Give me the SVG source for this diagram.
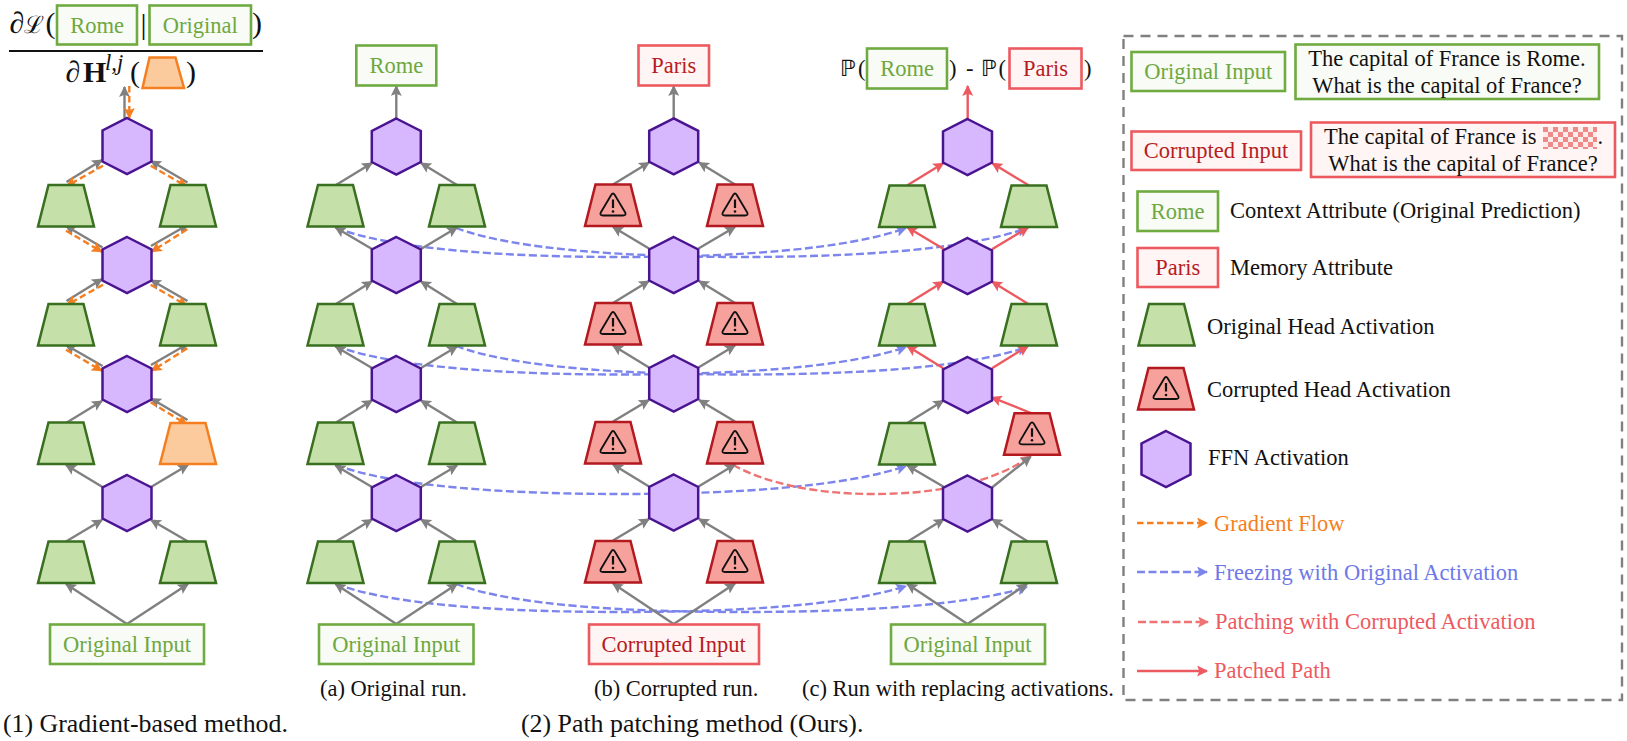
<svg xmlns="http://www.w3.org/2000/svg" width="1627" height="741" viewBox="0 0 1627 741">
<style>
text{font-family:"Liberation Serif","DejaVu Serif",serif;font-size:22.5px;fill:#111}
.m{text-anchor:middle}
.math{font-size:30px}
.cap{font-size:25.85px}
.tg{fill:#6EA83F}.tr{fill:#B71C23}
.bg{fill:#F8FBF6;stroke:#70AB42;stroke-width:2.6}
.br{fill:#FEF5F4;stroke:#EC5A60;stroke-width:2.6}
.hex{fill:#D7B7FD;stroke:#4A1491;stroke-width:2.5}
.tgreen{fill:#C5E0A9;stroke:#38701F;stroke-width:2.5}
.tred{fill:#F6A19C;stroke:#B3191F;stroke-width:2.5}
.torange{fill:#FBCB9D;stroke:#F57F20;stroke-width:2.5}
.c{fill:none;stroke-width:2.4}
.gray{stroke:#808080;marker-end:url(#ag)}
.org{stroke:#F57F20;stroke-dasharray:6.5 3.5;marker-end:url(#ao)}
.blue{stroke:#7C85EC;stroke-dasharray:8 3.5;marker-end:url(#ab)}
.pink{stroke:#EE7474;stroke-dasharray:8 3.5;marker-end:url(#ap)}
.red{stroke:#EC5A60;marker-end:url(#ar)}
</style>
<defs>
<marker id="ag" markerUnits="userSpaceOnUse" markerWidth="11" markerHeight="11" viewBox="0 0 10 10" refX="9" refY="5" orient="auto"><path d="M0,0L10,5L0,10L2,5Z" fill="#808080"/></marker>
<marker id="ao" markerUnits="userSpaceOnUse" markerWidth="11" markerHeight="11" viewBox="0 0 10 10" refX="9" refY="5" orient="auto"><path d="M0,0L10,5L0,10L2,5Z" fill="#F57F20"/></marker>
<marker id="ab" markerUnits="userSpaceOnUse" markerWidth="11" markerHeight="11" viewBox="0 0 10 10" refX="9" refY="5" orient="auto"><path d="M0,0L10,5L0,10L2,5Z" fill="#7C85EC"/></marker>
<marker id="ap" markerUnits="userSpaceOnUse" markerWidth="11" markerHeight="11" viewBox="0 0 10 10" refX="9" refY="5" orient="auto"><path d="M0,0L10,5L0,10L2,5Z" fill="#EE7474"/></marker>
<marker id="ar" markerUnits="userSpaceOnUse" markerWidth="11" markerHeight="11" viewBox="0 0 10 10" refX="9" refY="5" orient="auto"><path d="M0,0L10,5L0,10L2,5Z" fill="#EC5A60"/></marker>
<polygon id="H" class="hex" points="0,-28 24.5,-15.5 24.5,15.5 0,28 -24.5,15.5 -24.5,-15.5"/>
<polygon id="T" class="tgreen" points="-17.5,-21 17.5,-21 28,20.5 -28,20.5"/>
<g id="R">
<polygon class="tred" points="-17.5,-21 17.5,-21 28,20.5 -28,20.5"/>
<path d="M-1.8,-10.5Q0,-13.5 1.8,-10.5L12.2,7Q13.6,10 10,10L-10,10Q-13.6,10 -12.2,7Z" fill="none" stroke="#111" stroke-width="1.8"/>
<path d="M0,-6V2.5" stroke="#111" stroke-width="2.2"/>
<circle cx="0" cy="6" r="1.3" fill="#111"/>
</g>
<pattern id="chk" width="10" height="10" patternUnits="userSpaceOnUse" x="1543" y="127">
<rect width="10" height="10" fill="#FDEDEA"/>
<rect width="5" height="5" fill="#EE8A8A"/>
<rect x="5" y="5" width="5" height="5" fill="#EE8A8A"/>
</pattern>
</defs>
<g id="connectors">
<path class="c blue" d="M336,228C395,250 510,257 621,257S845,250 906,228"/>
<path class="c blue" d="M456,228C515,250 630,257 742,257S967,250 1027,228"/>
<path class="c blue" d="M336,346C395,368 510,374.5 621,374.5S845,368 906,347"/>
<path class="c blue" d="M456,346C515,368 630,374.5 742,374.5S967,368 1027,347"/>
<path class="c blue" d="M336,465C395,487 510,494 621,494S845,487 906,466"/>
<path class="c blue" d="M336,584C395,606 510,612 621,612S845,606 906,586"/>
<path class="c blue" d="M456,584C515,606 630,612 742,612S967,606 1027,587"/>
<path class="c pink" d="M733,465C770,485 820,494 873,494C930,494 990,485 1031,456"/>
<path class="c gray" d="M124.5,118V87"/>
<path class="c gray" d="M66.5,182L102,160"/><path class="c gray" d="M187.5,182.5L151,161"/>
<path class="c gray" d="M102.5,247.5L66,226"/><path class="c gray" d="M151,246L187.5,225"/>
<path class="c gray" d="M66.5,301L102,279"/><path class="c gray" d="M187.5,301L151,280"/>
<path class="c gray" d="M102.5,366L66,345"/><path class="c gray" d="M151,365L187.5,344"/>
<path class="c gray" d="M66,423L102,401"/><path class="c gray" d="M187.5,420L151,398.5"/>
<path class="c gray" d="M102.5,487L66,465"/><path class="c gray" d="M151,487L188,465"/>
<path class="c gray" d="M66,541.5L102,520"/><path class="c gray" d="M188,541.5L151,520"/>
<path class="c gray" d="M127,624L66,584"/><path class="c gray" d="M127,624L188,584"/>
<path class="c org" d="M129.3,86V118"/>
<path class="c org" d="M103,165.7L66.7,186"/><path class="c org" d="M150.7,165.7L186.7,186.5"/>
<path class="c org" d="M66,230.7L101.7,251.7"/><path class="c org" d="M187.3,229.3L151.7,251.7"/>
<path class="c org" d="M103,284.7L66.7,305"/><path class="c org" d="M150.7,284.7L186.7,305.5"/>
<path class="c org" d="M66,349.7L101.7,370.7"/><path class="c org" d="M187.3,348.3L151.7,370.7"/>
<path class="c org" d="M150.7,402.3L186.7,424.3"/>
<path class="c gray" d="M396.3,119V86"/>
<path class="c gray" d="M336,185L372,163"/><path class="c gray" d="M457,185L421,163"/>
<path class="c gray" d="M372,249L335.5,227.5"/><path class="c gray" d="M421,249L457,227.5"/>
<path class="c gray" d="M336,304L372,281.5"/><path class="c gray" d="M457,304L421,281.5"/>
<path class="c gray" d="M372,368L335.5,346.5"/><path class="c gray" d="M421,368L457,346.5"/>
<path class="c gray" d="M336,422.5L372,400.5"/><path class="c gray" d="M457,422.5L421,400.5"/>
<path class="c gray" d="M372,487L335.5,465.5"/><path class="c gray" d="M421,487L457,465.5"/>
<path class="c gray" d="M336,541.5L372,519.5"/><path class="c gray" d="M457,541.5L421,519.5"/>
<path class="c gray" d="M396.3,624L335.5,584"/><path class="c gray" d="M396.3,624L457,584"/>
<path class="c gray" d="M673.7,119V86"/>
<path class="c gray" d="M613,184.5L649,162.5"/><path class="c gray" d="M735,184.5L699,162.5"/>
<path class="c gray" d="M649,248.5L613,227"/><path class="c gray" d="M698.5,248.5L735,227"/>
<path class="c gray" d="M613,303L649,281"/><path class="c gray" d="M735,303L699,281"/>
<path class="c gray" d="M649,367.5L613,345.5"/><path class="c gray" d="M698.5,367.5L735,345.5"/>
<path class="c gray" d="M613,421.5L649,400"/><path class="c gray" d="M735,421.5L699,400"/>
<path class="c gray" d="M649,486.5L613,464.5"/><path class="c gray" d="M698.5,486.5L735,464.5"/>
<path class="c gray" d="M613,540.5L649,519"/><path class="c gray" d="M735,540.5L699,519"/>
<path class="c gray" d="M673.7,624L613,583.5"/><path class="c gray" d="M673.7,624L735,583.5"/>
<path class="c red" d="M967.7,119V86"/>
<path class="c red" d="M907,185.5L943.3,163.3"/><path class="c red" d="M1029,185.5L992.3,163.3"/>
<path class="c red" d="M944,249.3L907.3,227.3"/><path class="c red" d="M992,249.3L1028.3,227.3"/>
<path class="c red" d="M907.3,304L943.3,281.7"/><path class="c red" d="M1028.3,304L992,281.7"/>
<path class="c red" d="M943.3,368.3L907.3,346"/><path class="c red" d="M992,368.3L1028,346"/>
<path class="c gray" d="M907.3,423L943.3,400.7"/>
<path class="c red" d="M1031.7,413.3L991.7,397.3"/>
<path class="c gray" d="M944,487L907.3,465.5"/><path class="c gray" d="M992.3,487.3L1030.7,456.7"/>
<path class="c gray" d="M907.3,541.7L943.7,519.3"/><path class="c gray" d="M1028.3,541.7L992.3,519.3"/>
<path class="c gray" d="M967.5,624L907.3,584"/><path class="c gray" d="M967.5,624L1027,584"/>
</g>
<g id="formula">
<text class="math" x="9.5" y="33" font-style="italic">∂</text>
<text x="24" y="33" style="font-size:24px" font-family="DejaVu Sans">ℒ</text>
<text class="math" x="45.5" y="33">(</text>
<g id="formula-rome"><rect class="bg" x="57" y="5.5" width="80" height="39"/><text class="m tg" x="97" y="33">Rome</text></g>
<text class="math m" x="143.5" y="34">|</text>
<g id="formula-original"><rect class="bg" x="149.5" y="5.5" width="101.5" height="39"/><text class="m tg" x="200.2" y="33">Original</text></g>
<text class="math" x="252" y="33">)</text>
<path d="M9,51H263" stroke="#111" stroke-width="2"/>
<text class="math" x="65.5" y="82" font-style="italic">∂</text>
<text class="math" x="83" y="82" font-weight="bold">H</text>
<text x="105" y="70" font-style="italic">l,j</text>
<text class="math" x="130" y="82">(</text>
<polygon class="torange" points="149.5,57.5 175.5,57.5 184,88 142.5,88"/>
<text class="math" x="186" y="82">)</text>
</g>
<g id="col1">
<use href="#H" x="127" y="146"/><use href="#H" x="127" y="265"/><use href="#H" x="127" y="384"/><use href="#H" x="127" y="503"/>
<use href="#T" x="66" y="206"/><use href="#T" x="188" y="206"/>
<use href="#T" x="66" y="325"/><use href="#T" x="188" y="325"/>
<use href="#T" x="66" y="443.5"/><polygon class="torange" points="170.5,423 205.5,423 216,464 160,464"/>
<use href="#T" x="66" y="562.5"/><use href="#T" x="188" y="562.5"/>
<g id="input1"><rect class="bg" x="50" y="624.5" width="154" height="39.5"/><text class="m tg" x="127" y="651.7">Original Input</text></g>
</g>
<g id="col2">
<g id="rome2"><rect class="bg" x="356.3" y="45.5" width="80" height="40"/><text class="m tg" x="396.3" y="73.3">Rome</text></g>
<use href="#H" x="396.3" y="146.5"/><use href="#H" x="396.3" y="265"/><use href="#H" x="396.3" y="384"/><use href="#H" x="396.3" y="503"/>
<use href="#T" x="335.5" y="206"/><use href="#T" x="457" y="206"/>
<use href="#T" x="335.5" y="325"/><use href="#T" x="457" y="325"/>
<use href="#T" x="335.5" y="443.5"/><use href="#T" x="457" y="443.5"/>
<use href="#T" x="335.5" y="562.5"/><use href="#T" x="457" y="562.5"/>
<g id="input2"><rect class="bg" x="319" y="624.5" width="154.5" height="39.5"/><text class="m tg" x="396.3" y="651.7">Original Input</text></g>
</g>
<g id="col3">
<g id="paris3"><rect class="br" x="638.5" y="45.5" width="70.5" height="40"/><text class="m tr" x="673.7" y="73.3">Paris</text></g>
<use href="#H" x="673.7" y="146.3"/><use href="#H" x="673.7" y="265"/><use href="#H" x="673.7" y="383.5"/><use href="#H" x="673.7" y="502.5"/>
<use href="#R" x="613" y="205.5"/><use href="#R" x="735" y="205.5"/>
<use href="#R" x="613" y="324"/><use href="#R" x="735" y="324"/>
<use href="#R" x="613" y="443"/><use href="#R" x="735" y="443"/>
<use href="#R" x="613" y="562"/><use href="#R" x="735" y="562"/>
<g id="input3"><rect class="br" x="589" y="624.5" width="170" height="39.5"/><text class="m tr" x="673.7" y="651.7">Corrupted Input</text></g>
</g>
<g id="col4">
<text y="76"><tspan x="840" font-family="DejaVu Sans">ℙ</tspan><tspan x="858">(</tspan></text>
<g id="rome4"><rect class="bg" x="867" y="48.5" width="80" height="40"/><text class="m tg" x="907" y="76">Rome</text></g>
<text y="76"><tspan x="949">)</tspan><tspan x="966">-</tspan><tspan x="981" font-family="DejaVu Sans">ℙ</tspan><tspan x="998.5">(</tspan></text>
<g id="paris4"><rect class="br" x="1009.5" y="48.5" width="72" height="40"/><text class="m tr" x="1045.5" y="76">Paris</text></g>
<text x="1084" y="76">)</text>
<use href="#H" x="967.5" y="147"/><use href="#H" x="967.5" y="266"/><use href="#H" x="967.5" y="385"/><use href="#H" x="967.5" y="503.5"/>
<use href="#T" x="907" y="206.5"/><use href="#T" x="1029" y="206.5"/>
<use href="#T" x="907" y="325"/><use href="#T" x="1029" y="325"/>
<use href="#T" x="907" y="444"/><use href="#R" x="1032" y="434.3"/>
<use href="#T" x="907" y="562.5"/><use href="#T" x="1029" y="562.5"/>
<g id="input4"><rect class="bg" x="891" y="624.5" width="154" height="39.5"/><text class="m tg" x="967.5" y="651.7">Original Input</text></g>
</g>
<g id="captions">
<text x="320" y="696">(a) Original run.</text>
<text x="594" y="695.5">(b) Corrupted run.</text>
<text x="802" y="695.5">(c) Run with replacing activations.</text>
<text class="cap" x="3" y="731.7">(1) Gradient-based method.</text>
<text class="cap" x="521" y="731.7">(2) Path patching method (Ours).</text>
</g>
<g id="legend">
<rect x="1123.5" y="36" width="498.5" height="664" fill="none" stroke="#808080" stroke-width="2.4" stroke-dasharray="10 7"/>
<g id="leg-original"><rect class="bg" x="1131.5" y="52" width="153.5" height="39"/><text class="m tg" x="1208.2" y="79">Original Input</text></g>
<g id="leg-original-text"><rect class="bg" x="1295.5" y="44.5" width="303.5" height="54.5"/><text class="m" x="1447" y="65.7">The capital of France is Rome.</text><text class="m" x="1447" y="92.7">What is the capital of France?</text></g>
<g id="leg-corrupted"><rect class="br" x="1131.5" y="131.5" width="169.5" height="38.5"/><text class="m tr" x="1216" y="158">Corrupted Input</text></g>
<g id="leg-corrupted-text"><rect class="br" x="1311" y="122.5" width="304" height="54.5"/><text x="1324" y="144">The capital of France is</text><rect x="1543" y="127" width="54" height="22" fill="url(#chk)"/><text x="1597.5" y="144">.</text><text class="m" x="1463" y="170.7">What is the capital of France?</text></g>
<g id="leg-rome"><rect class="bg" x="1137.5" y="191.5" width="80.5" height="39.5"/><text class="m tg" x="1177.7" y="219">Rome</text></g>
<text x="1230" y="218">Context Attribute (Original Prediction)</text>
<g id="leg-paris"><rect class="br" x="1137.5" y="248" width="80.5" height="39"/><text class="m tr" x="1177.7" y="275">Paris</text></g>
<text x="1230" y="275">Memory Attribute</text>
<use href="#T" x="1166.5" y="325"/>
<text x="1207" y="334">Original Head Activation</text>
<use href="#R" x="1166" y="389"/>
<text x="1207" y="397">Corrupted Head Activation</text>
<use href="#H" x="1166" y="459"/>
<text x="1208" y="465">FFN Activation</text>
<path class="c org" d="M1137,523H1207"/>
<text x="1214" y="531" style="fill:#F57F20">Gradient Flow</text>
<path class="c blue" d="M1137,572H1207"/>
<text x="1214" y="580" style="fill:#6E78E8">Freezing with Original Activation</text>
<path class="c pink" d="M1138,622H1208"/>
<text x="1215" y="629" style="fill:#EC5A60">Patching with Corrupted Activation</text>
<path class="c red" d="M1137,671H1207"/>
<text x="1214" y="678" style="fill:#EC5A60">Patched Path</text>
</g>
</svg>
